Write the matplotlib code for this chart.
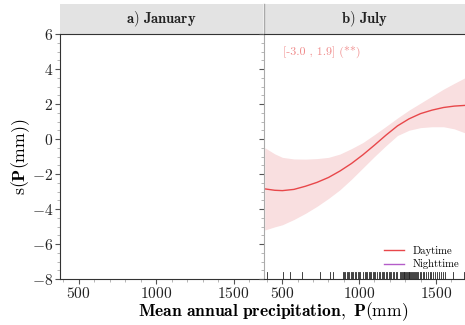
import matplotlib
matplotlib.use('Agg')
import matplotlib.pyplot as plt
from matplotlib.patches import Rectangle
from matplotlib.ticker import MultipleLocator

plt.rcParams['font.family'] = 'serif'
plt.rcParams['font.serif'] = ['cmr10']
plt.rcParams['mathtext.fontset'] = 'cm'
plt.rcParams['axes.formatter.use_mathtext'] = True
plt.rcParams['axes.unicode_minus'] = True

# July smooth fit (daytime) and its confidence band
precip = [385, 450, 500, 575, 650, 725, 800, 875, 950, 1025, 1100, 1175, 1250, 1325,
          1400, 1475, 1550, 1620, 1690]
fit = [-2.85, -2.93, -2.95, -2.88, -2.7, -2.48, -2.2, -1.83, -1.4, -0.9, -0.35, 0.22,
       0.75, 1.15, 1.45, 1.65, 1.8, 1.88, 1.92]
upper = [-0.5, -0.85, -1.05, -1.14, -1.15, -1.12, -1.05, -0.86, -0.55, -0.2, 0.25, 0.72,
         1.2, 1.65, 2.05, 2.45, 2.85, 3.18, 3.5]
lower = [-5.2, -5.02, -4.9, -4.6, -4.25, -3.85, -3.4, -2.9, -2.3, -1.65, -1.0, -0.38,
         0.2, 0.5, 0.65, 0.7, 0.7, 0.58, 0.35]

# station precipitation values (rug)
rug = [401, 506, 550, 626, 745, 810, 828, 893, 900, 908, 918, 925, 935, 945, 952, 960,
       972, 982, 990, 1000, 1006, 1027, 1035, 1042, 1050, 1062, 1070, 1080, 1090, 1097,
       1104, 1119, 1128, 1138, 1146, 1155, 1165, 1175, 1183, 1192, 1200, 1210, 1220, 1230,
       1238, 1245, 1267, 1272, 1278, 1284, 1290, 1295, 1300, 1305, 1311, 1316, 1322, 1328,
       1334, 1340, 1346, 1352, 1358, 1365, 1370, 1376, 1386, 1395, 1405, 1415, 1425, 1435,
       1448, 1460, 1470, 1482, 1495, 1508, 1520, 1532, 1545, 1560, 1614, 1684]

panels = ['a) January', 'b) July']
legend_labels = ['Daytime', 'Nighttime']
day_color = '#e8474a'
night_color = '#b45cc9'

fig = plt.figure(figsize=(4.65, 3.25), dpi=100)
ax1 = fig.add_axes([60/465, 1-279/325, 203/465, 245/325])
ax2 = fig.add_axes([264/465, 1-279/325, 201/465, 245/325], sharex=ax1, sharey=ax1)

for ax, title in zip([ax1, ax2], panels):
    ax.set_xlim(380, 1690)
    ax.set_ylim(-8, 6)
    ax.yaxis.set_major_locator(MultipleLocator(2))
    ax.yaxis.set_minor_locator(MultipleLocator(0.5))
    ax.xaxis.set_major_locator(MultipleLocator(500))
    ax.xaxis.set_minor_locator(MultipleLocator(100))
    ax.spines['right'].set_visible(False)
    for s in ['top', 'bottom', 'left']:
        ax.spines[s].set_color('#333333')
    ax.tick_params(which='both', direction='out', colors='#555555', labelcolor='#222222',
                   labelsize=11.2, top=False, right=False, pad=1.5)
    ax.tick_params(which='major', length=3.5)
    ax.tick_params(which='minor', length=2.2, colors='#aaaaaa')
    # facet strip
    ax.add_patch(Rectangle((0, 1), 1, 30/245, transform=ax.transAxes, clip_on=False,
                           facecolor='#e3e3e3', edgecolor='none'))
    words = title.replace(' ', r'\ ')
    ax.text(0.5, 1 + 15/245, r'$\mathbf{' + words + '}$', transform=ax.transAxes,
            ha='center', va='center', fontsize=10.5, color='#222222')

ax2.spines['left'].set_color('#aaaaaa')
ax2.tick_params(labelleft=False)
ax2.plot([0, 0], [1, 1 + 30/245], transform=ax2.transAxes, color='#aaaaaa', lw=1,
         clip_on=False)

# July panel
ax2.fill_between(precip, lower, upper, color='#f9dfe0', lw=0)
ax2.plot(precip, fit, color=day_color, lw=1, label=legend_labels[0])
ax2.plot([], [], color=night_color, lw=1, label=legend_labels[1])
for p in rug:
    ax2.axvline(p, ymin=0, ymax=0.03, color='#222222', lw=0.6)
ax2.text(0.095, 0.927, '[-3.0 , 1.9] (**)', transform=ax2.transAxes, ha='left',
         va='center', fontsize=8.6, color='#f08a8a')
ax2.legend(loc='lower right', bbox_to_anchor=(1.02, 0.0), frameon=False, fontsize=7.7,
           handlelength=1.9, labelspacing=0.35)

ax1.set_ylabel(r'$\mathrm{s}(\mathbf{P}(\mathrm{mm}))$', fontsize=12.8)
ax1.yaxis.set_label_coords(-28/203, 0.5)
fig.text(273/465, (325-312)/325, r'$\mathbf{Mean\ annual\ precipitation,\ P}(\mathrm{mm})$',
         ha='center', va='center', fontsize=12.6)

fig.savefig('out.png', dpi=100)
